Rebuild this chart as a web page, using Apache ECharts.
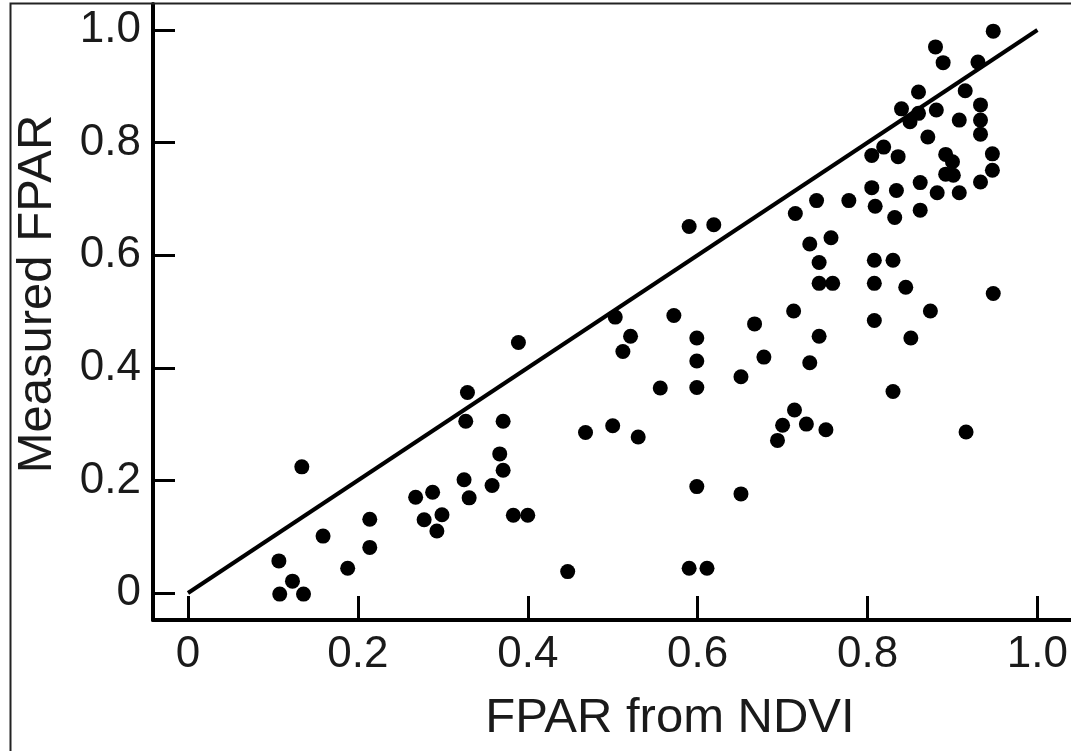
<!DOCTYPE html>
<html>
<head>
<meta charset="utf-8">
<script src="https://cdn.jsdelivr.net/npm/echarts@6/dist/echarts.min.js"></script>
<style>html,body{margin:0;padding:0;background:#fff;}#c{width:1071px;height:751px;}</style>
</head>
<body>
<div id="c"></div>
<script>
// FPAR from NDVI (x) vs measured FPAR (y)
const ndviFpar = [0.107,0.123,0.108,0.136,0.159,0.188,0.134,0.214,0.214,0.268,0.288,0.278,0.299,0.293,0.325,0.331,0.358,0.367,0.371,0.327,0.329,0.371,0.383,0.400,0.389,
0.447,0.468,0.500,0.530,0.503,0.512,0.521,0.556,0.572,0.590,0.619,0.599,0.599,0.599,0.599,0.590,0.611,0.651,0.651,0.667,0.678,0.694,0.700,0.714,0.713,0.715,0.728,0.751,0.732,0.743,0.743,0.759,0.743,0.732,0.757,0.740,0.778,
0.808,0.830,0.808,0.845,0.808,0.874,0.851,0.830,0.916,0.948,0.809,0.832,0.862,0.805,0.834,0.862,0.882,0.908,0.933,0.947,0.947,0.892,0.901,0.892,0.900,0.805,0.819,0.836,0.871,0.908,0.933,0.933,0.933,0.881,0.840,0.860,0.850,0.860,0.915,0.880,0.889,0.930,0.948];
const measuredFpar = [0.057,0.021,-0.002,-0.002,0.101,0.044,0.224,0.131,0.081,0.170,0.179,0.130,0.139,0.110,0.201,0.169,0.191,0.247,0.218,0.305,0.356,0.305,0.138,0.138,0.445,
0.038,0.285,0.297,0.277,0.490,0.429,0.456,0.364,0.493,0.651,0.654,0.453,0.412,0.365,0.189,0.044,0.044,0.384,0.176,0.478,0.419,0.271,0.298,0.325,0.501,0.674,0.300,0.290,0.409,0.456,0.550,0.550,0.587,0.620,0.631,0.697,0.697,
0.591,0.591,0.550,0.543,0.484,0.501,0.453,0.358,0.286,0.532,0.687,0.667,0.680,0.720,0.715,0.729,0.711,0.711,0.730,0.751,0.780,0.744,0.742,0.779,0.766,0.777,0.792,0.775,0.810,0.840,0.815,0.840,0.867,0.858,0.860,0.852,0.837,0.890,0.892,0.970,0.942,0.943,0.998];
const oneToOneLine = [[0, 0], [1, 1]];
const tickValues = [0, 0.2, 0.4, 0.6, 0.8, 1.0];
const tickLabels = ['0', '0.2', '0.4', '0.6', '0.8', '1.0'];
const xTitle = 'FPAR from NDVI';
const yTitle = 'Measured FPAR';

const points = ndviFpar.map((x, i) => [x, measuredFpar[i]]);
const fmt = v => { const i = tickValues.findIndex(t => Math.abs(t - v) < 1e-6); return i >= 0 ? tickLabels[i] : ''; };
const textColor = '#1a1a1a';
const labelFont = 'Liberation Sans, Arial, sans-serif';

const chart = echarts.init(document.getElementById('c'), null, {renderer: 'canvas'});
chart.setOption({
  animation: false,
  backgroundColor: '#fff',
  grid: {left: 153, right: 0, top: 4, bottom: 131, containLabel: false},
  xAxis: {
    type: 'value', min: -0.0412, max: 1.0388,
    axisLine: {show: true, onZero: false, lineStyle: {color: '#000', width: 4}},
    axisTick: {show: true, inside: true, length: 24, customValues: tickValues, lineStyle: {color: '#000', width: 3}},
    axisLabel: {customValues: tickValues, formatter: fmt, fontSize: 44, fontFamily: labelFont, color: textColor, margin: 13},
    splitLine: {show: false}
  },
  yAxis: {
    type: 'value', min: -0.048, max: 1.0462,
    axisLine: {show: true, onZero: false, lineStyle: {color: '#000', width: 4}},
    axisTick: {show: true, inside: true, length: 22, customValues: tickValues, lineStyle: {color: '#000', width: 3}},
    axisLabel: {customValues: tickValues, formatter: fmt, fontSize: 44, fontFamily: labelFont, color: textColor, margin: 12},
    splitLine: {show: false}
  },
  graphic: [
    {type: 'rect', shape: {x: 10.5, y: 3.5, width: 1200, height: 900}, style: {fill: 'none', stroke: '#222', lineWidth: 2}, z: 100, silent: true},
    {type: 'text', x: 670, y: 718, z: 100, style: {text: xTitle, font: '49px "Liberation Sans", Arial, sans-serif', fill: textColor, textAlign: 'center', textVerticalAlign: 'middle'}},
    {type: 'text', x: 37, y: 294, rotation: Math.PI / 2, z: 100, style: {text: yTitle, font: '49px "Liberation Sans", Arial, sans-serif', fill: textColor, textAlign: 'center', textVerticalAlign: 'middle'}}
  ],
  series: [
    {type: 'line', data: oneToOneLine, symbol: 'none', lineStyle: {color: '#000', width: 4}, z: 2, silent: true},
    {type: 'scatter', data: points, symbol: 'circle', symbolSize: 15, itemStyle: {color: '#000', opacity: 1}, z: 3}
  ]
});
</script>
</body>
</html>
